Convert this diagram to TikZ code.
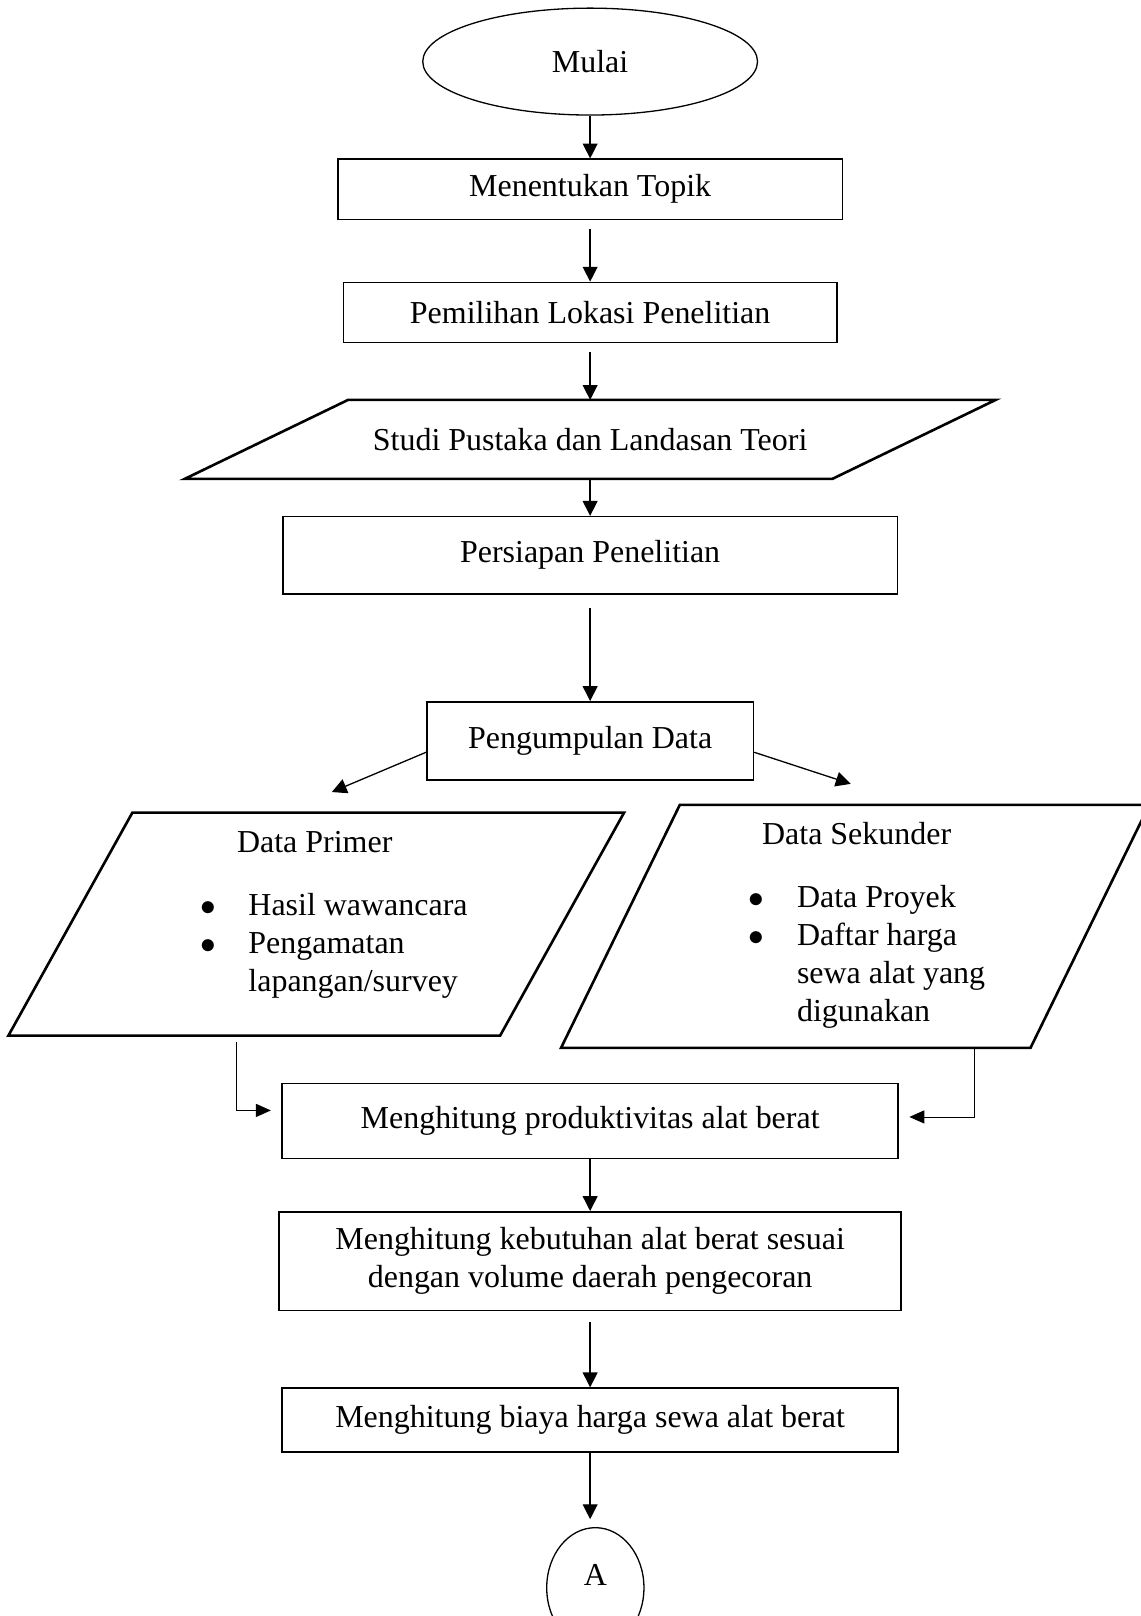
\documentclass[tikz,border=0pt]{standalone}
\usepackage{fontspec}
\setmainfont{Liberation Serif}
\usetikzlibrary{shapes.geometric,arrows.meta}

\tikzset{
  box/.style={draw, line width=0.6pt, align=center, inner sep=2pt},
  pline/.style={line width=1pt},
  arr/.style={-{Triangle[length=5.7pt,width=5.7pt]}, line width=0.5pt},
  elb/.style={-{Triangle[length=5.7pt,width=5pt]}, line width=0.35pt},
}

\begin{document}
\begin{tikzpicture}[x=1cm,y=1cm, font=\fontsize{12.25}{14.6}\selectfont]
  \useasboundingbox (0,0) rectangle (15.37,21.77);

  \node[draw, ellipse, line width=0.5pt, minimum width=4.51cm, minimum height=1.44cm] (mulai) at (7.95,20.94) {Mulai};
  \node[box, minimum width=6.80cm, minimum height=0.81cm] (topik) at (7.95,19.22) {Menentukan Topik};
  \node[box, minimum width=6.65cm, minimum height=0.81cm] (lokasi) at (7.95,17.56) {Pemilihan Lokasi Penelitian};
  \node[minimum width=10.91cm, minimum height=1.05cm, inner sep=0pt] (studi) at (7.95,15.85) {Studi Pustaka dan Landasan Teori};
  \draw[pline] ([xshift=2.20cm]studi.north west) -- (studi.north east) -- ([xshift=-2.20cm]studi.south east) -- (studi.south west) -- cycle;
  \node[box, minimum width=8.28cm, minimum height=1.04cm] (siap) at (7.95,14.29) {Persiapan Penelitian};
  \node[box, minimum width=4.40cm, minimum height=1.05cm] (kumpul) at (7.95,11.79) {Pengumpulan Data};

  \coordinate (lp) at (4.47,11.10);
  \coordinate (rp) at (11.46,11.21);

  % data primer
  \node[minimum width=8.28cm, minimum height=2.99cm, inner sep=0pt] (prim) at (4.26,9.32) {};
  \draw[pline] ([xshift=1.67cm]prim.north west) -- (prim.north east) -- ([xshift=-1.67cm]prim.south east) -- (prim.south west) -- cycle;
  \node[anchor=base] (primT) at (4.24,10.28) {Data Primer};
  \node[anchor=base west, inner sep=0pt] (primL) at (2.69,9.44) {\begin{tabular}[t]{@{}l@{\hspace{12.5pt}}l@{}}
    $\bullet$ & Hasil wawancara\\
    $\bullet$ & Pengamatan\\
              & lapangan/survey
  \end{tabular}};

  % data sekunder
  \node[minimum width=7.91cm, minimum height=3.26cm, inner sep=0pt] (sek) at (11.52,9.29) {};
  \draw[pline] ([xshift=1.60cm]sek.north west) -- (sek.north east) -- ([xshift=-1.60cm]sek.south east) -- (sek.south west) -- cycle;
  \node[anchor=base] (sekT) at (11.54,10.39) {Data Sekunder};
  \node[anchor=base west, inner sep=0pt] (sekL) at (10.08,9.55) {\begin{tabular}[t]{@{}l@{\hspace{12.5pt}}l@{}}
    $\bullet$ & Data Proyek\\
    $\bullet$ & Daftar harga\\
              & sewa alat yang\\
              & digunakan
  \end{tabular}};

  \node[box, minimum width=8.30cm, minimum height=1.01cm] (prod) at (7.95,6.67) {Menghitung produktivitas alat berat};
  \node[box, minimum width=8.38cm, minimum height=1.33cm] (butuh) at (7.95,4.78) {Menghitung kebutuhan alat berat sesuai\\dengan volume daerah pengecoran};
  \node[box, minimum width=8.30cm, minimum height=0.86cm] (biaya) at (7.95,2.64) {Menghitung biaya harga sewa alat berat};
  \node[draw, ellipse, line width=0.5pt, minimum width=1.31cm, minimum height=1.62cm, text depth=10pt] (conA) at (8.02,0.38) {A};

  \draw[arr] (mulai) -- (topik);
  \draw[arr, shorten <=3.5pt] (topik) -- (lokasi);
  \draw[arr, shorten <=3.5pt] (lokasi) -- (studi);
  \draw[arr] (studi) -- (siap);
  \draw[arr, shorten <=5pt] (siap) -- (kumpul);
  \draw[arr] (kumpul.184) -- (lp);
  \draw[arr] (kumpul.356) -- (rp);
  \draw[elb, shorten <=2.5pt, shorten >=4pt] ([xshift=-1.07cm]prim.south) |- ([yshift=4pt]prod.west);
  \draw[elb, shorten >=4pt] ([xshift=1.61cm]sek.south) |- ([yshift=1.5pt]prod.east);
  \draw[arr] (prod) -- (butuh);
  \draw[arr, shorten <=4pt] (butuh) -- (biaya);
  \draw[arr, shorten >=3pt] (biaya.south) -- (biaya.south |- conA.north);
\end{tikzpicture}
\end{document}
